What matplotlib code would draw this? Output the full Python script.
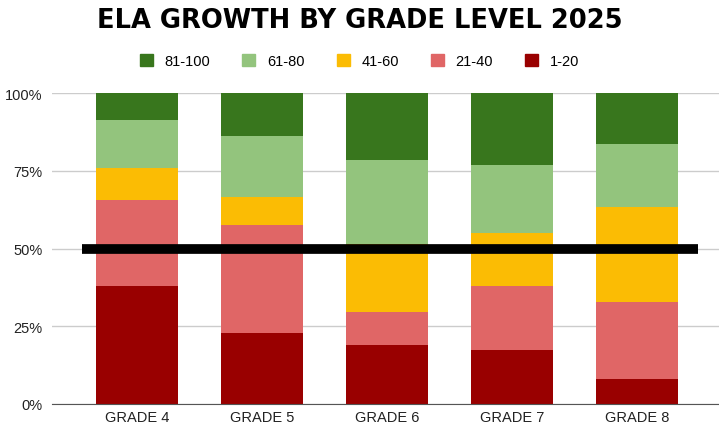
import matplotlib
matplotlib.use("Agg")
import matplotlib.pyplot as plt
from matplotlib.patches import Patch
import numpy as np

grades = ["GRADE 4", "GRADE 5", "GRADE 6", "GRADE 7", "GRADE 8"]
bands = ["1-20", "21-40", "41-60", "61-80", "81-100"]
v_1_20 = [37.9, 22.8, 19.0, 17.4, 8.0]
v_21_40 = [27.7, 34.8, 10.6, 20.5, 24.8]
v_41_60 = [10.3, 9.0, 21.8, 17.1, 30.5]
v_61_80 = [15.4, 19.6, 27.1, 21.8, 20.3]
v_81_100 = [8.7, 13.8, 21.5, 23.2, 16.4]
target = 50
colors = {"1-20": "#990000", "21-40": "#e06666", "41-60": "#fbbc04",
          "61-80": "#93c47d", "81-100": "#38761d"}

plt.rcParams['font.family'] = ['Liberation Sans', 'DejaVu Sans']
fig = plt.figure(figsize=(7.19, 4.27), dpi=100)
W, H = 719, 427
ax = fig.add_axes([52 / W, 1 - 405 / H, (719 - 52) / W, (405 - 94) / H])

x = np.arange(len(grades))
series = [v_1_20, v_21_40, v_41_60, v_61_80, v_81_100]
bottom = np.zeros(len(grades))
for name, vals in zip(bands, series):
    ax.bar(x, vals, bottom=bottom, width=0.656, color=colors[name], zorder=2)
    bottom += np.array(vals)

ax.plot([-0.44, 4.49], [target, target], color="black", lw=7, zorder=3, solid_capstyle="butt")

ax.set_xlim(-0.68, 4.656)
ax.set_ylim(0, 100)
ax.set_yticks([0, 25, 50, 75, 100])
ax.set_yticklabels(["0%", "25%", "50%", "75%", "100%"])
ax.set_xticks(x)
ax.set_xticklabels(grades)
ax.grid(axis="y", color="#cccccc", lw=1, zorder=0)
for s in ["top", "right", "left"]:
    ax.spines[s].set_visible(False)
ax.spines["bottom"].set_color("#555555")
ax.spines["bottom"].set_zorder(4)
ax.tick_params(axis="both", length=0, labelsize=10.5, colors="#222222")
ax.tick_params(axis="y", pad=7)
ax.tick_params(axis="x", pad=4)

fig.text(0.5, 1 - 21 / H, "ELA GROWTH BY GRADE LEVEL 2025", ha="center", va="center",
         fontsize=18.5, fontweight="heavy", family=["DejaVu Sans"])

handles = [Patch(color=colors[b]) for b in reversed(bands)]
fig.legend(handles, list(reversed(bands)), loc="center", bbox_to_anchor=(0.5, 1 - 62 / H),
           ncol=5, frameon=False, fontsize=10.5, handlelength=0.9, handleheight=0.9,
           columnspacing=2.2, handletextpad=0.8)

fig.savefig("out.png", dpi=100)
